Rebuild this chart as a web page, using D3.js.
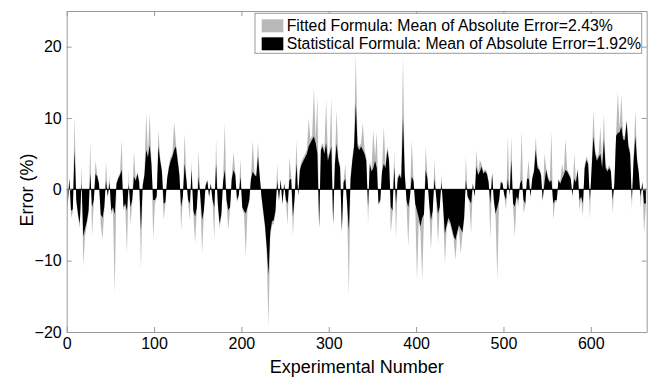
<!DOCTYPE html>
<html>
<head>
<meta charset="utf-8">
<script src="https://cdn.jsdelivr.net/npm/d3@7/dist/d3.min.js"></script>
<style>
  body { margin: 0; background: #fff; }
  svg { display: block; font-family: "Liberation Sans", Arial, sans-serif; }
</style>
</head>
<body>
<div id="chart"></div>
<script>
var step = 2;

var statErr = [
  -2.5, 1.5, -3, -2.8, 5.5, -1.5, -3.5, -4.8, 1.0, -6.6,
  -5.5, -4.5, -3, 2.2, -2.5, -1.5, 2.2, 1.8, 0.8, -3.5,
  -4, -2.5, 1.2, -1, 1.0, -3, -2.5, -3.5, 0.8, 1.5,
  2, 2.7, -2.5, -2, -3, 0.8, -2.5, -1.5, 1.8, 1.2,
  2.2, 1, -5.7, 0.5, 2, 5.5, 4.5, 6.2, 3.5, -1.5,
  -1.5, -1, 6, 4, 2.5, -2, -1.8, 1.5, 3, 4,
  4.6, 5.5, 6, 4, 2, -2.4, -1, 3.6, 1.3, -1.5,
  -2, 2.7, -3, -3.8, -2.5, 1.8, -1, -4.3, -3, 0.5,
  1.2, -1, 0.8, -1.5, -2.5, 3.6, -2, -4.8, -3.5, 1,
  2.7, -1.5, -2.9, -2.5, 1.5, 2.7, 2, -1.5, -0.8, 1.8,
  -2.5, -3, -3.4, -2.5, -1.5, 1.5, 2.5, 2, 1.8, 4.6,
  1.8, -1, -3, -5, -8, -12, -6, -4.5, -4.3, -3,
  1.2, -1.5, 1.3, -2, 0.8, -1.5, -2, 1.3, 1.5, -3.8,
  -1, 3.6, -0.8, 2.7, 3.5, 4, 4.5, 5, 6, 6.5,
  7, 7.4, 6.5, 5, -5.2, 5.5, 6, 5, 6.5, 4,
  5, 6, -4.8, 3.5, 6.4, 4, 3, -5.7, 1, 1.5,
  -2, -5.7, 1.5, 4, 6, 12, 6, 5.5, 6, 5.5,
  5, 4, -2.5, 3.5, 2.5, 3, 4, 3, -2, -1.5,
  2.5, 3.6, 3, 5.5, 4, -2.4, -3, 3.2, -2, 1.5,
  2, 1.5, 10, 2.2, -1.5, -2.5, -1, 1.8, 1.2, -2,
  -3, -4, -5.2, -4, -3.5, 2.7, 1.5, -2, -4.3, -3,
  1.5, -1, -3.4, -2.5, 1, -2.5, -6.2, -5, -4, -4.5,
  -5.5, -6.5, -7.1, -6, -5, -5.5, -6, -4, 1.3, -1,
  -1.5, -2, 0.8, -1, 3.2, 2, 2.5, 3.2, 2.2, 2.5,
  2.2, 1, -2, 2.2, -1.5, -3.4, -2.5, -1.5, 1, 0.8,
  -0.8, -1.5, 1.5, -0.8, 4.1, -2, -2.4, -1, -1.5, 0.8,
  1.3, -1.5, -2, 1.5, 1.5, -1, 1.5, 2.5, 5.5, 3,
  2.7, 2, -1.5, 1, 2.7, 1.5, 1, 1.3, -2, -1.5,
  -1.5, 1.3, 0.8, 1.5, 2, 2.7, 2.5, 2, 1.5, -0.8,
  1.5, 1, 2.7, -1.5, -1, -2, 3, 4.1, 3.5, -1.5,
  3, 7.4, 5, 4, 4.5, 5, 3, 6.9, 3, 2.5,
  3, 2.5, -1.5, 0.8, 7.5, 7.9, 8, 8.8, 7, 6.9,
  9.5, 6, 5, -1.5, 4, 7.4, 4, 2.2, -1, 1, -2, -2
];

var fitErr = [
  -3, 1.8, -4, -3.2, 10.4, -1.8, -4, -5.5, 3.6, -10.8,
  -6.5, -5, -3.5, 6.7, -6.6, -1.8, 4, 2, 1, -5,
  -7, -3, 4, -1.2, 2, -3.5, -3, -14.6, 1, 1.8,
  2.3, 6.9, -3, -2.3, -9, 2.7, -5, -1.8, 5.3, 1.4,
  2.5, 1.2, -11.3, 0.6, 2.3, 10.6, 5, 10.6, 4, -7,
  -2, -1.2, 8.3, 4.5, 2.8, -4.3, -2, 1.8, 3.4, 4.5,
  5, 9.5, 6.5, 4.5, 2.3, -5.7, -1.2, 7.9, 1.5, -1.8,
  -4.3, 4, -3.4, -7.6, -2.8, 5.5, -1.2, -9, -3.4, 0.6,
  1.4, -1.2, 1, -1.8, -7, 7.1, -2.3, -5.5, -4, 1.2,
  9.3, -1.8, -5.7, -2.8, 1.8, 5.3, 2.3, -1.8, -1, 4.3,
  -2.8, -3.4, -9.4, -2.8, -1.8, 1.8, 6.9, 2.3, 2, 6.7,
  2, -1.2, -3.4, -5.5, -9, -19.3, -6.8, -5, -4.8, -3.4,
  3.6, -1.8, 1.5, -2.3, 1, -1.8, -5, 4.6, 1.8, -6.6,
  -1.2, 6.9, -1, 3, 4, 4.5, 5, 5.5, 10, 7,
  7.5, 14.2, 7, 13, -5.8, 6, 6.5, 5.5, 12.5, 4.5,
  5.5, 13, -5.3, 4, 11, 4.5, 3.4, -6.3, 1.2, 3.6,
  -2.3, -15, 1.8, 4.5, 6.5, 18.9, 6.5, 6, 6.5, 9.3,
  5.5, 4.5, -4.8, 4, 2.8, 8.3, 4.5, 8, -2.3, -1.8,
  2.8, 8.8, 3.4, 6, 4.5, -6.2, -3.4, 5.5, -7, 1.8,
  2.3, 1.8, 18.5, 2.5, -1.8, -8, -1.2, 6.9, 1.4, -2.3,
  -12.7, -4.5, -5.8, -12.7, -4, 6, 1.8, -2.3, -8.5, -3.4,
  4.1, -1.2, -7.6, -2.8, 2.2, -2.8, -10.4, -5.5, -4.5, -5,
  -6, -7, -9.9, -6.5, -5.5, -9, -6.5, -4.5, 4.6, -1.2,
  -1.8, -6.2, 1, -1.2, 5.5, 2.3, 4.1, 3.5, 2.5, 2.8,
  2.5, 1.2, -7, 2.5, -1.8, -3.8, -12.7, -1.8, 1.2, 1,
  -1, -2.9, 7.4, -1, 7.4, -2.3, -6.6, -1.2, -2.4, 1,
  8.1, -3.4, -2.3, 1.8, 4.1, -1.2, 1.8, 2.8, 7.4, 3.4,
  3, 2.3, -1.8, 5, 3, 1.8, 1.2, 8.1, -4.3, -1.8,
  -1.8, 1.5, 1, 3.6, 2.3, 7.1, 2.8, 2.3, 1.8, -1.5,
  5, 1.2, 3, -2.9, -1.2, -3.8, 3.4, 4.6, 4, -4.3,
  3.4, 11.1, 5.5, 4.5, 5, 8.8, 3.4, 10.6, 3.4, 2.8,
  3.4, 2.8, -3.4, 1, 8, 13.7, 8.5, 13.2, 7.5, 7.4,
  9.8, 6.5, 5.5, -2.9, 4.5, 11.1, 4.5, 2.5, -2.5, 1.2, -6.2, -2.3
];

var xTicks = [0, 100, 200, 300, 400, 500, 600];
var yTicks = [-20, -10, 0, 10, 20];
var legendLabels = [
  "Fitted Formula: Mean of Absolute Error=2.43%",
  "Statistical Formula: Mean of Absolute Error=1.92%"
];
var legendColors = ["#b9b9b9", "#000000"];

var margin = {top: 11, right: 4.3, bottom: 46, left: 66.7},
    width = 651 - margin.left - margin.right,
    height = 378 - margin.top - margin.bottom;

var svg = d3.select("#chart")
  .append("svg")
    .attr("width", 651)
    .attr("height", 378)
  .append("g")
    .attr("transform", "translate(" + margin.left + "," + margin.top + ")");

var x = d3.scaleLinear().domain([0, 664]).range([0, width]);
var y = d3.scaleLinear().domain([-20, 25]).range([height, 0]);

var area = d3.area()
  .x(function(d, i) { return x(i * step + step / 2); })
  .y0(y(0))
  .y1(function(d) { return y(d); });

svg.append("path")
  .datum(fitErr)
  .attr("fill", legendColors[0])
  .attr("d", area);

svg.append("path")
  .datum(statErr)
  .attr("fill", legendColors[1])
  .attr("d", area);

// baseline
svg.append("line")
  .attr("x1", 0).attr("x2", width)
  .attr("y1", y(0)).attr("y2", y(0))
  .attr("stroke", "#000").attr("stroke-width", 1);

var axisColor = "#9a9a9a";

function styleAxis(g) {
  g.select(".domain").attr("stroke", axisColor);
  g.selectAll(".tick line").attr("stroke", axisColor);
  g.selectAll("text").attr("fill", "#000").attr("font-size", 16)
    .attr("font-family", "Liberation Sans, Arial, sans-serif");
}

svg.append("g")
  .attr("transform", "translate(0," + height + ")")
  .call(d3.axisBottom(x).tickValues(xTicks).tickSizeInner(-5).tickSizeOuter(0).tickPadding(6))
  .call(styleAxis);

svg.append("g")
  .call(d3.axisTop(x).tickValues(xTicks).tickSizeInner(-5).tickSizeOuter(0).tickFormat(""))
  .call(styleAxis);

svg.append("g")
  .call(d3.axisLeft(y).tickValues(yTicks).tickSizeInner(-5).tickSizeOuter(0).tickPadding(5))
  .call(styleAxis);

svg.append("g")
  .attr("transform", "translate(" + width + ",0)")
  .call(d3.axisRight(y).tickValues(yTicks).tickSizeInner(-5).tickSizeOuter(0).tickFormat(""))
  .call(styleAxis);

// legend
var lg = svg.append("g").attr("transform", "translate(" + (255 - margin.left) + "," + (13.3 - margin.top) + ")");
lg.append("rect")
  .attr("width", 386.7).attr("height", 40)
  .attr("fill", "#fff").attr("stroke", axisColor);

legendLabels.forEach(function(t, i) {
  lg.append("rect")
    .attr("x", 6.7).attr("y", 6 + i * 18)
    .attr("width", 21.6).attr("height", 13)
    .attr("fill", legendColors[i]);
  lg.append("text")
    .attr("x", 31.7).attr("y", 12.5 + i * 18)
    .attr("dy", "0.35em")
    .attr("font-size", 15.8)
    .text(t);
});

svg.append("text")
  .attr("x", width / 2).attr("y", height + 41)
  .attr("text-anchor", "middle")
  .attr("font-size", 18)
  .text("Experimental Number");

svg.append("text")
  .attr("transform", "translate(" + (27 - margin.left) + "," + (190 - margin.top) + ") rotate(-90)")
  .attr("text-anchor", "middle")
  .attr("dy", "0.35em")
  .attr("font-size", 18)
  .text("Error (%)");
</script>
</body>
</html>
